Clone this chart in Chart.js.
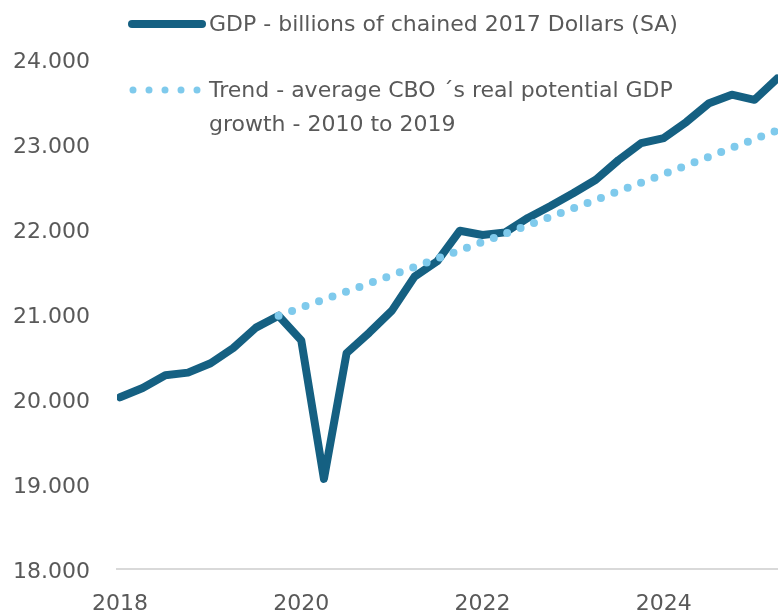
<!DOCTYPE html>
<html>
<head>
<meta charset="utf-8">
<title>GDP vs trend</title>
<script src="https://cdn.jsdelivr.net/npm/chart.js@4.4.1/dist/chart.umd.min.js"></script>
<style>
  html, body { margin: 0; background: #fff; }
  #wrap { width: 778px; height: 616px; position: relative; }
</style>
</head>
<body>
<div id="wrap"><canvas id="gdpChart"></canvas></div>
<script>
// Real GDP by quarter, billions of chained 2017 dollars (SA)
const quarters = [
  '2018Q1', '2018Q2', '2018Q3', '2018Q4',
  '2019Q1', '2019Q2', '2019Q3', '2019Q4',
  '2020Q1', '2020Q2', '2020Q3', '2020Q4',
  '2021Q1', '2021Q2', '2021Q3', '2021Q4',
  '2022Q1', '2022Q2', '2022Q3', '2022Q4',
  '2023Q1', '2023Q2', '2023Q3', '2023Q4',
  '2024Q1', '2024Q2', '2024Q3', '2024Q4',
  '2025Q1', '2025Q2'
];
const gdp = [
  20020, 20130, 20280, 20310,
  20420, 20600, 20840, 20980,
  20690, 19060, 20540, 20780,
  21040, 21440, 21620, 21980,
  21930, 21960, 22130, 22270,
  22420, 22580, 22810, 23010,
  23070, 23260, 23480, 23580,
  23520, 23770
];
// trend path starting from the 2019Q4 level
const trend = [
  null, null, null, null,
  null, null, null, 20980,
  21075, 21170, 21265, 21360,
  21457, 21554, 21651, 21749,
  21847, 21945, 22044, 22143,
  22243, 22343, 22444, 22545,
  22646, 22748, 22851, 22954,
  23057, 23160
];
const seriesNames = [
  ['GDP - billions of chained 2017 Dollars (SA)'],
  ['Trend - average CBO \u00b4s real potential GDP', 'growth - 2010 to 2019']
];
const yearTicks = [2018, 2020, 2022, 2024];

const FONT = '"DejaVu Sans", Verdana, sans-serif';
const FONT_SIZE = 22;
const TEXT_COLOR = '#595959';
const GDP_COLOR = '#156082';
const TREND_COLOR = '#7FCAEC';

// "2018Q3" -> 2018.5
const qPos = q => Number(q.slice(0, 4)) + (Number(q.slice(5)) - 1) / 4;
const toPoints = vals => quarters.map((q, i) => ({ x: qPos(q), y: vals[i] }));

// legend drawn inside the plot, top-left, with wrapped labels
const insideLegend = {
  id: 'insideLegend',
  afterDraw(chart) {
    const ctx = chart.ctx;
    const rows = [25, 91];
    const lineGap = 34;
    ctx.save();
    ctx.font = FONT_SIZE + 'px ' + FONT;
    ctx.fillStyle = TEXT_COLOR;
    ctx.textBaseline = 'middle';
    chart.data.datasets.forEach((ds, i) => {
      const y = rows[i];
      ctx.beginPath();
      ctx.strokeStyle = ds.borderColor;
      ctx.lineCap = 'round';
      if (ds.borderDash) {
        ctx.lineWidth = 7;
        ctx.setLineDash([0, 16]);
        ctx.moveTo(133, y - 1);
        ctx.lineTo(198, y - 1);
      } else {
        ctx.lineWidth = 8;
        ctx.setLineDash([]);
        ctx.moveTo(132, y - 1);
        ctx.lineTo(202, y - 1);
      }
      ctx.stroke();
      seriesNames[i].forEach((txt, k) => {
        ctx.fillText(txt, 209, y + k * lineGap);
      });
    });
    ctx.restore();
  }
};

new Chart(document.getElementById('gdpChart'), {
  type: 'line',
  data: {
    datasets: [
      {
        label: seriesNames[0].join(' '),
        data: toPoints(gdp),
        borderColor: GDP_COLOR,
        borderWidth: 8,
        borderCapStyle: 'round',
        borderJoinStyle: 'round',
        pointRadius: 0,
        tension: 0,
        order: 1
      },
      {
        label: seriesNames[1].join(' '),
        data: toPoints(trend),
        borderColor: TREND_COLOR,
        borderWidth: 8,
        borderDash: [0, 14.3],
        borderCapStyle: 'round',
        pointRadius: 0,
        tension: 0,
        spanGaps: false,
        order: 0
      }
    ]
  },
  options: {
    responsive: true,
    maintainAspectRatio: false,
    animation: false,
    layout: { padding: { top: 59, right: 0, bottom: 0, left: 0 } },
    plugins: { legend: { display: false }, tooltip: { enabled: false } },
    scales: {
      x: {
        type: 'linear',
        min: 2017.967,
        max: 2025.26,
        afterBuildTicks: axis => { axis.ticks = yearTicks.map(v => ({ value: v })); },
        afterFit: axis => { axis.height = 47; },
        grid: { display: false, drawTicks: false },
        border: { display: true, color: '#d9d9d9', width: 2 },
        ticks: {
          color: TEXT_COLOR,
          font: { family: FONT, size: FONT_SIZE },
          padding: 22,
          maxRotation: 0,
          callback: v => String(v)
        }
      },
      y: {
        min: 18000,
        max: 24000,
        afterFit: axis => { axis.width = 117; },
        grid: { display: false, drawTicks: false },
        border: { display: false },
        ticks: {
          stepSize: 1000,
          color: TEXT_COLOR,
          font: { family: FONT, size: FONT_SIZE },
          padding: 27,
          labelOffset: 3,
          callback: v => v.toLocaleString('de-DE')
        }
      }
    }
  },
  plugins: [insideLegend]
});
</script>
</body>
</html>
